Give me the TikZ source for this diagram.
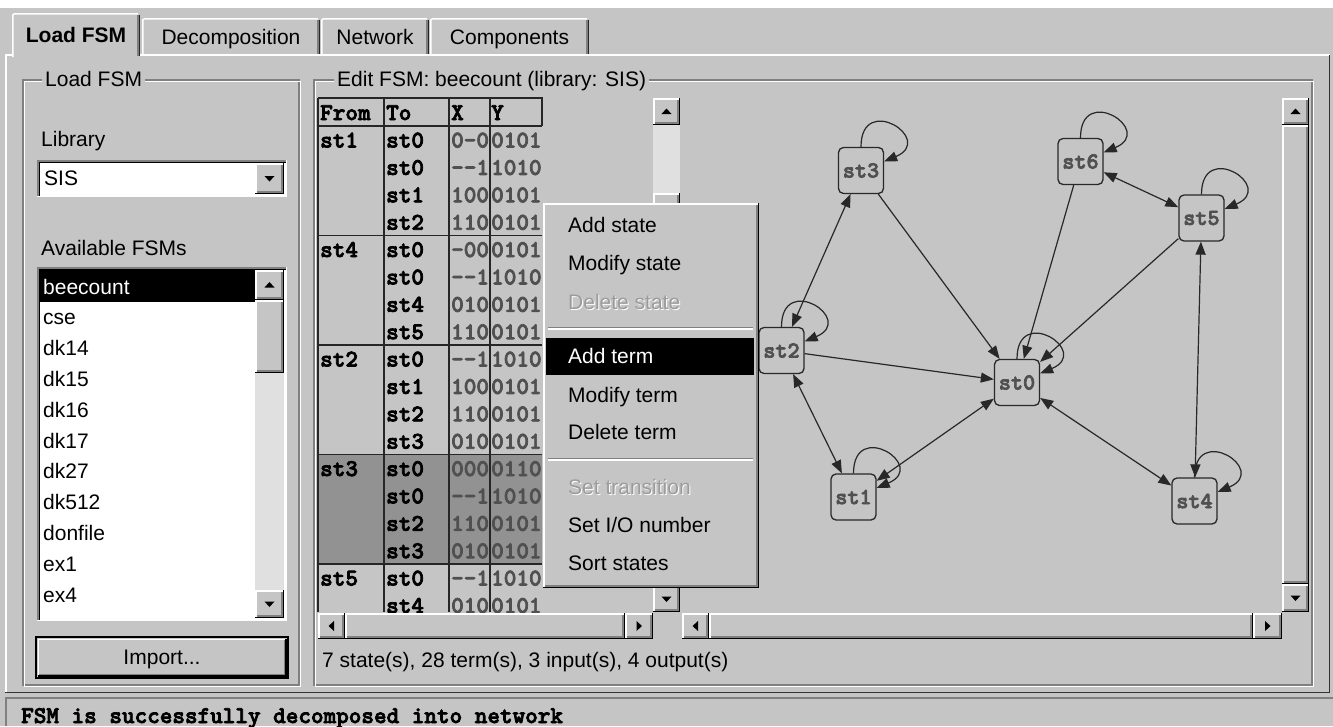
\documentclass[tikz,border=0pt]{standalone}
\usepackage{fontspec}
\setmainfont{Liberation Sans}
\newfontfamily\slabmono{lmmonolt10-bold.otf}[FakeBold=3]
\usetikzlibrary{calc,arrows.meta}

\definecolor{winbg}{RGB}{197,197,197}
\definecolor{bevdark}{RGB}{128,128,128}
\definecolor{track}{RGB}{224,224,224}
\definecolor{selgrp}{RGB}{146,146,146}
\definecolor{cellval}{RGB}{80,80,80}
\definecolor{edgecol}{RGB}{40,40,40}
\definecolor{lblcol}{RGB}{80,80,80}
\definecolor{distxt}{RGB}{155,155,155}

\newcommand\uifont{\fontsize{21}{24}\selectfont}
\newcommand\tabfont{\slabmono\fontsize{24}{26}\selectfont}

\tikzset{
  lbl/.style={inner sep=0pt, text height=15pt, text depth=0pt, anchor=west, font=\uifont},
  cellk/.style={inner sep=0pt, text height=14pt, text depth=0pt, anchor=west, font=\tabfont},
  cellv/.style={cellk, text=cellval},
  stnode/.style={draw=edgecol, line width=1.3pt, rounded corners=5pt, fill=winbg,
    minimum width=45pt, minimum height=46pt, inner sep=0pt,
    font=\slabmono\fontsize{23}{23}\selectfont, text=lblcol},
  edge/.style={draw=edgecol, line width=1.2pt, >={Triangle[length=13pt,width=10pt]}},
}

% raised 3D box: x1 y1 x2 y2
\newcommand\bevelup[4]{%
  \fill[winbg] (#1,#2) rectangle (#3,#4);
  \draw[white,line width=1.5pt] (#1+0.75,#4-1) -- (#1+0.75,#2+0.75) -- (#3-1,#2+0.75);
  \draw[bevdark,line width=1.5pt] (#1+1.5,#4-2.25) -- (#3-2.25,#4-2.25) -- (#3-2.25,#2+1.5);
  \draw[black,line width=1.5pt] (#1,#4-0.75) -- (#3-0.75,#4-0.75) -- (#3-0.75,#2);
}
% sunken 3D box: x1 y1 x2 y2 fill
\newcommand\bevelin[5]{%
  \fill[#5] (#1,#2) rectangle (#3,#4);
  \draw[bevdark,line width=1.5pt] (#1+0.75,#4) -- (#1+0.75,#2+0.75) -- (#3,#2+0.75);
  \draw[black,line width=1.5pt] (#1+2.25,#4-1.5) -- (#1+2.25,#2+2.25) -- (#3-1.5,#2+2.25);
  \draw[white,line width=1.5pt] (#1,#4-0.75) -- (#3-0.75,#4-0.75) -- (#3-0.75,#2);
}
% scroll button with a small triangle; last argument is the rotation (0 = up)
\newcommand\arrowbtn[5]{%
  \bevelup{#1}{#2}{#3}{#4}
  \fill[black,shift={($(#1,#2)!.5!(#3,#4)$)},rotate=#5] (0,-3) -- (5,2.5) -- (-5,2.5) -- cycle;
}
% etched frame
\newcommand\etched[4]{%
  \draw[bevdark,line width=1.2pt] (#1,#2) rectangle (#3,#4);
  \draw[white,line width=1.2pt] (#1+1.5,#2+1.5) rectangle (#3+1.5,#4+1.5);
}
% one transition row of the table: id, y, to, X, Y
\newcommand\trow[5]{%
  \node[cellk] (#1b) at (386,#2) {#3};
  \node[cellv] (#1c) at (451,#2) {#4};
  \node[cellv] (#1d) at (491,#2) {#5};
}
\newcommand\selfloop[1]{%
  \draw[edge,->] (#1.north) .. controls +(0,-55) and +(52,-22) .. ($(#1.east)+(0,-9)$);
}
% disabled menu entry
\newcommand\greyitem[3]{%
  \node[lbl,text=white] (#1w) at (569,#2+1) {#3};
  \node[lbl,text=distxt] (#1) at (568,#2) {#3};
}

\begin{document}
\begin{tikzpicture}[x=1pt,y=-1pt]
\useasboundingbox (0,0) rectangle (1333,726);
\fill[winbg] (0,0) rectangle (1333,726);
\fill[white] (0,0) rectangle (1333,8);

% ---------- tab panel ----------
\draw[white,line width=1.5pt] (5.75,693) -- (5.75,54.75) -- (1330,54.75);
\draw[black!80,line width=1.5pt] (5,692.25) -- (1329.25,692.25) -- (1329.25,55);

% inactive tabs
\foreach \xa/\xb/\nm/\txt in {142/320/tdec/Decomposition, 321/429/tnet/Network, 430/589/tcomp/Components}{
  \fill[winbg] (\xa,18) rectangle (\xb,54);
  \draw[white,line width=1.5pt] (\xa+0.75,54) -- (\xa+0.75,20) -- (\xa+2.5,18.75) -- (\xb-2,18.75);
  \draw[bevdark,line width=1.5pt] (\xb-2.25,20) -- (\xb-2.25,54);
  \draw[black!85,line width=1.5pt] (\xb-0.75,20) -- (\xb-0.75,54);
  \node[lbl,anchor=center] (\nm) at ({(\xa+\xb)/2},37) {\txt};
}
% active tab
\fill[winbg] (12,13) rectangle (140,57);
\draw[white,line width=1.5pt] (12.75,57) -- (12.75,15) -- (14.5,13.75) -- (138,13.75);
\draw[bevdark,line width=1.5pt] (137.75,15) -- (137.75,56);
\draw[black!85,line width=1.5pt] (139.25,15) -- (139.25,55.5);
\node[lbl,anchor=center,font=\uifont\bfseries] (tload) at (76,35) {Load FSM};

% ---------- group frames ----------
\etched{23}{80}{299}{685}
\node[lbl,fill=winbg,inner xsep=3pt] (gload) at (42,79) {Load FSM};
\etched{314}{80}{1312}{685}
\node[lbl,fill=winbg,inner xsep=3pt] (gedit) at (334,79) {Edit FSM: beecount (library: SIS)};

% ---------- left panel ----------
\node[lbl] (liblbl) at (41,139) {Library};
\bevelin{37}{160}{287}{197}{white}
\node[lbl] (libval) at (44,178) {SIS};
\arrowbtn{255}{163}{284}{194}{180}

\node[lbl] (avlbl) at (41,248) {Available FSMs};
\bevelin{37}{267}{287}{621}{white}
\fill[black] (40,270) rectangle (255,302);
\node[lbl,text=white] (it0) at (43,286.5) {beecount};
\foreach \nm/\txt [count=\k] in {it1/cse, it2/dk14, it3/dk15, it4/dk16, it5/dk17, it6/dk27, it7/dk512, it8/donfile, it9/ex1, it10/ex4}{
  \node[lbl] (\nm) at (43,{286.5+30.8*\k}) {\txt};
}
\fill[track] (255,300) rectangle (284,590);
\arrowbtn{255}{270}{284}{300}{0}
\bevelup{255}{300}{284}{373}
\arrowbtn{255}{590}{284}{618}{180}

\draw[black,line width=1.5pt] (36,637) rectangle (288,678);
\bevelup{37.5}{638.5}{286.5}{676.5}
\node[lbl,anchor=center] (import) at (162,657) {Import...};

% ---------- transition table ----------
\fill[selgrp] (318,454.5) rectangle (542,564);
\begin{scope}
\clip (318,98) rectangle (542,612);
\node[cellk] (hfrom) at (320,113) {From};
\node[cellk] (hto) at (386,113) {To};
\node[cellk] (hx) at (451,113) {X};
\node[cellk] (hy) at (491,113) {Y};

\node[cellk] (f1) at (320,140.5) {st1};
\trow{r11}{140.5}{st0}{0-0}{0101}
\trow{r12}{167.9}{st0}{{-}{-}1}{1010}
\trow{r13}{195.3}{st1}{100}{0101}
\trow{r14}{222.7}{st2}{110}{0101}

\node[cellk] (f4) at (320,250) {st4};
\trow{r41}{250}{st0}{{-}00}{0101}
\trow{r42}{277.4}{st0}{{-}{-}1}{1010}
\trow{r43}{304.8}{st4}{010}{0101}
\trow{r44}{332.2}{st5}{110}{0101}

\node[cellk] (f2) at (320,359.5) {st2};
\trow{r21}{359.5}{st0}{{-}{-}1}{1010}
\trow{r22}{386.9}{st1}{100}{0101}
\trow{r23}{414.3}{st2}{110}{0101}
\trow{r24}{441.7}{st3}{010}{0101}

\node[cellk] (f3) at (320,469) {st3};
\trow{r31}{469}{st0}{000}{0110}
\trow{r32}{496.4}{st0}{{-}{-}1}{1010}
\trow{r33}{523.8}{st2}{110}{0101}
\trow{r34}{551.2}{st3}{010}{0101}

\node[cellk] (f5) at (320,578.5) {st5};
\trow{r51}{578.5}{st0}{{-}{-}1}{1010}
\trow{r52}{605.9}{st4}{010}{0101}
\end{scope}
% table grid
\begin{scope}[black!85,line width=1.3pt]
\draw (318,98) -- (542,98) -- (542,126);
\foreach \yy in {126,235.5,345,454.5,564} \draw (318,\yy) -- (542,\yy);
\foreach \xx in {318,384,449,490} \draw (\xx,98) -- (\xx,612);
\end{scope}

% table scrollbars
\fill[track] (653,125) rectangle (680,586);
\arrowbtn{653}{98}{680}{125}{0}
\bevelup{653}{193}{680}{400}
\arrowbtn{653}{586}{680}{612}{180}
\arrowbtn{318}{613}{345}{639}{90}
\bevelup{345}{613}{625}{639}
\arrowbtn{625}{613}{653}{639}{-90}

\node[lbl] (stats) at (322,660) {7 state(s), 28 term(s), 3 input(s), 4 output(s)};

% ---------- state graph ----------
\node[stnode] (st3) at (861,170.5) {st3};
\node[stnode] (st6) at (1080.5,161.5) {st6};
\node[stnode] (st5) at (1201.5,218) {st5};
\node[stnode] (st2) at (781.5,350.5) {st2};
\node[stnode] (st0) at (1017,382.5) {st0};
\node[stnode] (st1) at (853.5,497) {st1};
\node[stnode] (st4) at (1194.5,501) {st4};

\foreach \s in {st0,st1,st2,st3,st4,st5,st6} {\selfloop{\s}}

\draw[edge,<->] (st2) -- (st3);
\draw[edge,->] (st3) -- (st0);
\draw[edge,->] (st6) -- (st0);
\draw[edge,<->] (st6) -- (st5);
\draw[edge,->] (st5) -- (st0);
\draw[edge,<->] (st5) -- (st4);
\draw[edge,->] (st2) -- (st0);
\draw[edge,<->] (st2) -- (st1);
\draw[edge,<->] (st1) -- (st0);
\draw[edge,<->] (st0) -- (st4);

% graph scrollbars
\arrowbtn{1282}{98}{1309}{125}{0}
\bevelup{1282}{125}{1309}{584}
\arrowbtn{1282}{584}{1309}{612}{180}
\arrowbtn{682}{613}{709}{639}{90}
\bevelup{709}{613}{1253}{639}
\arrowbtn{1253}{613}{1282}{639}{-90}

% ---------- popup menu ----------
\bevelup{543}{203}{759}{588}
\node[lbl] (madds) at (568,225) {Add state};
\node[lbl] (mmods) at (568,263) {Modify state};
\greyitem{mdels}{302}{Delete state}
\draw[bevdark,line width=1.3pt] (548,327.5) -- (753,327.5);
\draw[white,line width=1.3pt] (548,329) -- (753,329);
\fill[black] (546,338) rectangle (754,375);
\node[lbl,text=white] (maddt) at (568,356) {Add term};
\node[lbl] (mmodt) at (568,395) {Modify term};
\node[lbl] (mdelt) at (568,432) {Delete term};
\draw[bevdark,line width=1.3pt] (548,458.5) -- (753,458.5);
\draw[white,line width=1.3pt] (548,460) -- (753,460);
\greyitem{mtrans}{487}{Set transition}
\node[lbl] (mio) at (568,525) {Set I/O number};
\node[lbl] (msort) at (568,563) {Sort states};

% ---------- status bar ----------
\draw[bevdark,line width=1.5pt] (6,726) -- (6,698) -- (1333,698);
\node[cellk] (status) at (21,716) {FSM is successfully decomposed into network};
\end{tikzpicture}
\end{document}
